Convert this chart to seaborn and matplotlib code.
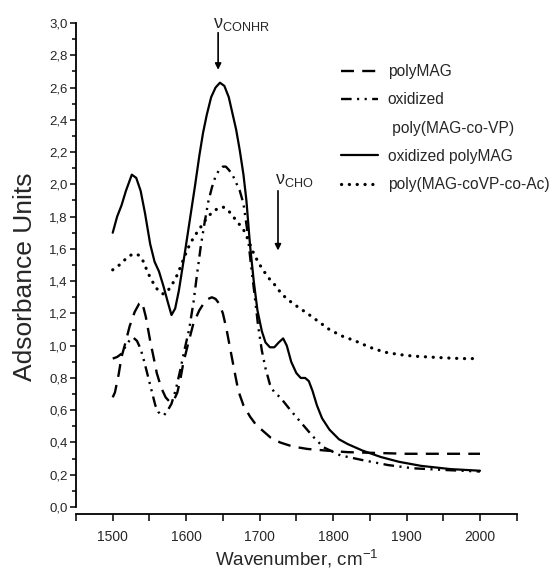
"""IR spectra of polyMAG samples."""

import matplotlib

matplotlib.use("Agg")

import matplotlib.pyplot as plt
import pandas as pd
import seaborn as sns
from matplotlib.lines import Line2D
from matplotlib.ticker import FuncFormatter, MultipleLocator

# polyMAG (dashed)
wn_polymag = [1500, 1503, 1508, 1512, 1518, 1523, 1530, 1536, 1540, 1545, 1551, 1556, 1560, 1566, 1572,
              1578, 1583, 1588, 1592, 1596, 1602, 1610, 1618, 1625, 1630, 1635, 1640, 1645, 1650, 1655,
              1660, 1665, 1671, 1678, 1687, 1695, 1705, 1715, 1728, 1745, 1765, 1790, 1820, 1860, 1900,
              1950, 2000]
abs_polymag = [0.68, 0.71, 0.82, 0.93, 1.03, 1.12, 1.21, 1.26, 1.27, 1.18, 1.03, 0.92, 0.83, 0.74, 0.68,
               0.65, 0.66, 0.71, 0.79, 0.89, 1.00, 1.14, 1.22, 1.27, 1.29, 1.30, 1.29, 1.26, 1.20, 1.10,
               0.98, 0.86, 0.72, 0.63, 0.56, 0.51, 0.47, 0.43, 0.40, 0.375, 0.36, 0.35, 0.34, 0.335, 0.33,
               0.33, 0.33]

# oxidized poly(MAG-co-VP) (dash dot dot)
wn_ox_vp = [1500, 1506, 1512, 1518, 1524, 1528, 1533, 1538, 1543, 1548, 1553, 1558, 1562, 1566, 1570,
            1575, 1580, 1586, 1592, 1598, 1604, 1610, 1615, 1620, 1625, 1630, 1635, 1640, 1645, 1650,
            1654, 1658, 1663, 1668, 1673, 1678, 1683, 1688, 1693, 1698, 1703, 1708, 1714, 1720, 1728,
            1742, 1757, 1772, 1787, 1810, 1841, 1875, 1909, 1950, 2000]
abs_ox_vp = [0.92, 0.93, 0.95, 1.00, 1.04, 1.05, 1.03, 0.98, 0.90, 0.81, 0.72, 0.63, 0.59, 0.57, 0.57,
             0.60, 0.64, 0.73, 0.85, 0.98, 1.10, 1.27, 1.45, 1.62, 1.76, 1.89, 1.98, 2.05, 2.09, 2.11,
             2.11, 2.09, 2.06, 2.01, 1.96, 1.88, 1.72, 1.51, 1.32, 1.12, 0.97, 0.86, 0.76, 0.71, 0.68,
             0.60, 0.52, 0.44, 0.37, 0.32, 0.29, 0.26, 0.24, 0.23, 0.22]

# oxidized polyMAG (solid)
wn_ox_mag = [1500, 1506, 1512, 1518, 1526, 1532, 1538, 1544, 1551, 1557, 1563, 1569, 1575, 1580, 1585,
             1590, 1598, 1605, 1612, 1618, 1623, 1628, 1634, 1640, 1646, 1652, 1658, 1663, 1668, 1673,
             1678, 1682, 1687, 1692, 1697, 1703, 1708, 1714, 1720, 1726, 1732, 1737, 1743, 1750, 1756,
             1762, 1767, 1772, 1778, 1785, 1795, 1808, 1820, 1840, 1865, 1890, 1920, 1960, 2000]
abs_ox_mag = [1.70, 1.80, 1.87, 1.96, 2.06, 2.04, 1.96, 1.82, 1.63, 1.52, 1.46, 1.37, 1.27, 1.19, 1.23,
              1.34, 1.57, 1.78, 1.99, 2.18, 2.32, 2.43, 2.54, 2.60, 2.63, 2.61, 2.54, 2.44, 2.34, 2.21,
              2.06, 1.90, 1.62, 1.40, 1.22, 1.09, 1.02, 0.99, 0.99, 1.02, 1.045, 1.00, 0.90, 0.83, 0.80,
              0.80, 0.78, 0.72, 0.63, 0.55, 0.48, 0.42, 0.39, 0.35, 0.31, 0.28, 0.255, 0.235, 0.225]

# poly(MAG-coVP-co-Ac) (dotted)
wn_vp_ac = [1500, 1506, 1512, 1518, 1524, 1530, 1536, 1542, 1548, 1555, 1562, 1569, 1575, 1581, 1588,
            1595, 1602, 1610, 1619, 1628, 1636, 1643, 1650, 1657, 1664, 1671, 1678, 1685, 1692, 1699,
            1706, 1714, 1722, 1730, 1740, 1752, 1765, 1780, 1795, 1812, 1830, 1850, 1870, 1890, 1910,
            1930, 1950, 1975, 2000]
abs_vp_ac = [1.47, 1.49, 1.51, 1.54, 1.56, 1.57, 1.56, 1.52, 1.45, 1.39, 1.34, 1.32, 1.34, 1.38, 1.44,
             1.52, 1.60, 1.67, 1.73, 1.79, 1.83, 1.85, 1.86, 1.84, 1.80, 1.76, 1.72, 1.65, 1.57, 1.51,
             1.46, 1.41, 1.37, 1.32, 1.28, 1.24, 1.20, 1.15, 1.10, 1.06, 1.03, 0.99, 0.96, 0.945, 0.935,
             0.93, 0.925, 0.92, 0.92]

FONT = ["Liberation Sans", "DejaVu Sans"]

sns.set_style("ticks")
plt.rcParams["font.family"] = FONT
plt.rcParams["mathtext.default"] = "regular"

series = [
    ("polyMAG", wn_polymag, abs_polymag, dict(linestyle=(0, (5.5, 3.5)), linewidth=1.7)),
    ("oxidized", wn_ox_vp, abs_ox_vp,
     dict(linestyle=(0, (4.5, 2.3, 0.9, 2.3, 0.9, 2.3)), linewidth=1.7)),
    ("oxidized polyMAG", wn_ox_mag, abs_ox_mag, dict(linestyle="-", linewidth=1.6)),
    ("poly(MAG-coVP-co-Ac)", wn_vp_ac, abs_vp_ac,
     dict(linestyle=(0, (0.05, 2.4)), linewidth=2.3, dash_capstyle="round")),
]

fig = plt.figure(figsize=(5.6, 5.78), dpi=100)
ax = fig.add_axes([0.1357, 0.1228, 0.787, 0.8374])

handles = []
for name, wn, ab, style in series:
    df = pd.DataFrame({"wn": wn, "A": ab})
    sns.lineplot(data=df, x="wn", y="A", ax=ax, color="black", sort=False,
                 estimator=None, legend=False, **style)
    handles.append(ax.lines[-1])

# legend: the dash-dot entry has a two line label, second line gets an empty handle
blank = Line2D([], [], linestyle="none")
leg_handles = [handles[0], handles[1], blank, handles[2], handles[3]]
leg_labels = ["polyMAG", "oxidized", " poly(MAG-co-VP)", "oxidized polyMAG", "poly(MAG-coVP-co-Ac)"]
ax.legend(leg_handles, leg_labels, loc="upper left", bbox_to_anchor=(0.609, 0.889),
          bbox_transform=fig.transFigure, frameon=False, fontsize=11.2, handlelength=2.4,
          handletextpad=0.6, labelspacing=0.85, borderpad=0, borderaxespad=0)

# axes
ax.set_xlim(1450, 2050)
ax.set_ylim(0, 3.0)
ax.xaxis.set_major_locator(MultipleLocator(100))
ax.xaxis.set_minor_locator(MultipleLocator(50))
ax.yaxis.set_major_locator(MultipleLocator(0.2))
ax.yaxis.set_minor_locator(MultipleLocator(0.1))
ax.yaxis.set_major_formatter(FuncFormatter(lambda v, _: f"{v:.1f}".replace(".", ",")))
ax.tick_params(axis="both", which="major", direction="out", width=1.1, length=4.5, color="black")
ax.tick_params(axis="both", which="minor", direction="out", width=1.1, length=3, color="black")
ax.tick_params(axis="x", which="both", length=5, labelsize=10, pad=6.5)
ax.tick_params(axis="y", labelsize=9.5, pad=1.5)
for side in ("top", "right"):
    ax.spines[side].set_visible(False)
for side in ("left", "bottom"):
    ax.spines[side].set_linewidth(1.3)
    ax.spines[side].set_color("black")
ax.spines["bottom"].set_position(("outward", 5))

ax.set_xlabel("Wavenumber, cm$^{-1}$", fontsize=13.5, labelpad=3)
ax.set_ylabel("Adsorbance Units", fontsize=19)
ax.yaxis.set_label_coords(-0.088, 0.475)

# band markers
arrow = dict(arrowstyle="-|>", color="black", lw=1.2, mutation_scale=9, shrinkA=0, shrinkB=0)
ax.annotate("", xy=(1643.5, 2.71), xytext=(1643.5, 2.94), arrowprops=arrow, annotation_clip=False)
ax.text(1637, 2.94, r"$\nu_{CONHR}$", fontsize=13, ha="left", va="bottom", clip_on=False)
ax.annotate("", xy=(1725, 1.59), xytext=(1725, 1.96), arrowprops=arrow)
ax.text(1721, 1.97, r"$\nu_{CHO}$", fontsize=13, ha="left", va="bottom")

fig.savefig("out.png", dpi=100)
plt.close(fig)
